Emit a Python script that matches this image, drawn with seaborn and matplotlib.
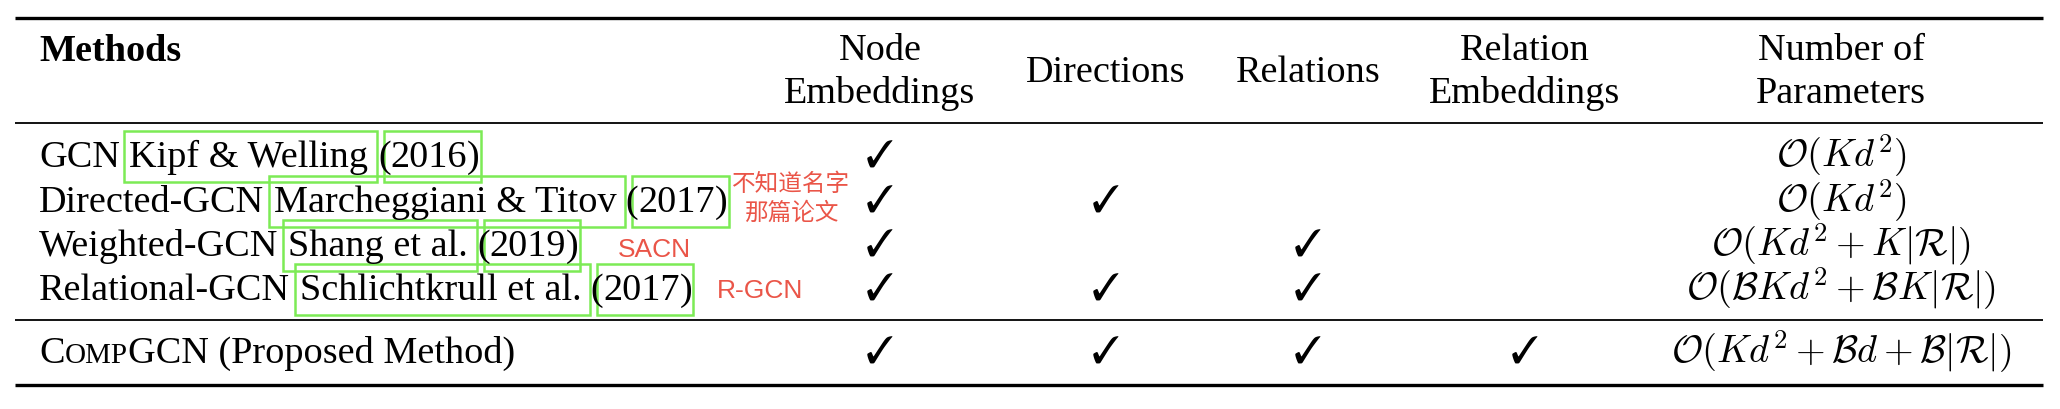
import matplotlib
matplotlib.use("Agg")
import matplotlib.pyplot as plt
from matplotlib.patches import Rectangle
import seaborn as sns
import pandas as pd

# ---------------- data ----------------
methods = ["GCN", "Directed-GCN", "Weighted-GCN", "Relational-GCN"]
citations = ["Kipf & Welling", "Marcheggiani & Titov", "Shang et al.", "Schlichtkrull et al."]
years = ["2016", "2017", "2019", "2017"]
notes = ["", "不知道名字\n那篇论文", "SACN", "R-GCN"]
proposed = ("C", "OMP", "GCN (Proposed Method)")
headers = [["Node", "Embeddings"], ["Directions"], ["Relations"],
           ["Relation", "Embeddings"], ["Number of", "Parameters"]]
node_emb = [1, 1, 1, 1, 1]
directions = [0, 1, 0, 1, 1]
relations = [0, 0, 1, 1, 1]
rel_emb = [0, 0, 0, 0, 1]
params = [r"$\mathcal{O}(Kd^2)$",
          r"$\mathcal{O}(Kd^2)$",
          r"$\mathcal{O}(Kd^2 + K|\mathcal{R}|)$",
          r"$\mathcal{O}(\mathcal{B}Kd^2 + \mathcal{B}K|\mathcal{R}|)$",
          r"$\mathcal{O}(Kd^2 + \mathcal{B}d + \mathcal{B}|\mathcal{R}|)$"]

df = pd.DataFrame({"node": node_emb, "dir": directions, "rel": relations,
                   "relemb": rel_emb, "params": params})

# ---------------- layout ----------------
sns.set_theme(style="white")
plt.rcParams["mathtext.fontset"] = "cm"
SERIF = ["Liberation Serif", "DejaVu Serif"]
FS = 27.5
SP = 0.25 * FS * 100 / 72.0  # width of a space in px
GREEN = "#7CEB55"
RED = "#EA5548"

fig = plt.figure(figsize=(20.6, 4.1), dpi=100)
ax = fig.add_axes([0, 0, 1, 1])
ax.set_xlim(0, 2060)
ax.set_ylim(410, 0)
ax.axis("off")
renderer = fig.canvas.get_renderer()
inv = ax.transData.inverted()

X_LEFT = 39
col_x = [880, 1106, 1308, 1525, 1841]
row_base = [167, 212, 256, 300]
prop_base = 363
hdr_base = [[60, 103], [82], [82], [60, 103], [60, 103]]


def put(x, y, s, **kw):
    opts = dict(va="baseline", ha="left", family=SERIF, fontsize=FS, color="black")
    opts.update(kw)
    t = ax.text(x, y, s, **opts)
    bb = t.get_window_extent(renderer).transformed(inv)
    return t, bb


# rules
ax.hlines([19, 386], 15, 2043, color="black", lw=2.4)
ax.hlines([124, 321], 15, 2043, color="black", lw=1.3)

# header
put(X_LEFT, 61, "Methods", fontweight="bold")
for cx, lines, bases in zip(col_x, headers, hdr_base):
    for line, b in zip(lines, bases):
        put(cx, b, line, ha="center")

# baseline rows
for i, (m, c, yr) in enumerate(zip(methods, citations, years)):
    b = row_base[i]
    _, bb = put(X_LEFT, b, m)
    _, cb = put(bb.x1 + SP, b, c)
    ax.add_patch(Rectangle((cb.x0 - 5, b - 35), (cb.x1 + 9) - (cb.x0 - 5), 51,
                           fill=False, ec=GREEN, lw=1.8))
    _, pb = put(cb.x1 + SP, b, "(")
    _, yb = put(pb.x1, b, yr)
    _, qb = put(yb.x1, b, ")")
    ax.add_patch(Rectangle(((pb.x0 + pb.x1) / 2, b - 35), qb.x1 + 1 - (pb.x0 + pb.x1) / 2, 51,
                           fill=False, ec=GREEN, lw=1.8))

# red notes
cjk = ["Noto Sans CJK SC", "DejaVu Sans"]
l1, l2 = notes[1].split("\n")
ax.text(791, 185, l1, ha="center", va="center", fontsize=17, family=cjk, color=RED)
ax.text(791, 213, l2, ha="center", va="center", fontsize=17, family=cjk, color=RED)
ax.text(618, 257, notes[2], ha="left", va="baseline", fontsize=19,
        family=["Liberation Sans", "DejaVu Sans"], color=RED)
ax.text(717, 298, notes[3], ha="left", va="baseline", fontsize=19,
        family=["Liberation Sans", "DejaVu Sans"], color=RED)

# proposed method (small caps)
_, b1 = put(X_LEFT, prop_base, proposed[0])
_, b2 = put(b1.x1, prop_base, proposed[1], fontsize=FS * 0.76)
put(b2.x1, prop_base, proposed[2])

# checks and parameters
all_base = row_base + [prop_base]
for r in range(len(df)):
    b = all_base[r]
    for k, key in enumerate(["node", "dir", "rel", "relemb"]):
        if df[key].iloc[r]:
            ax.text(col_x[k], b + 1, "\u2713", ha="center", va="baseline", fontsize=27,
                    family=["STIXGeneral", "DejaVu Sans"], color="black")
    ax.text(col_x[4], b, df["params"].iloc[r], ha="center", va="baseline",
            fontsize=FS, color="black")

fig.savefig("out.png", dpi=100, facecolor="white")
